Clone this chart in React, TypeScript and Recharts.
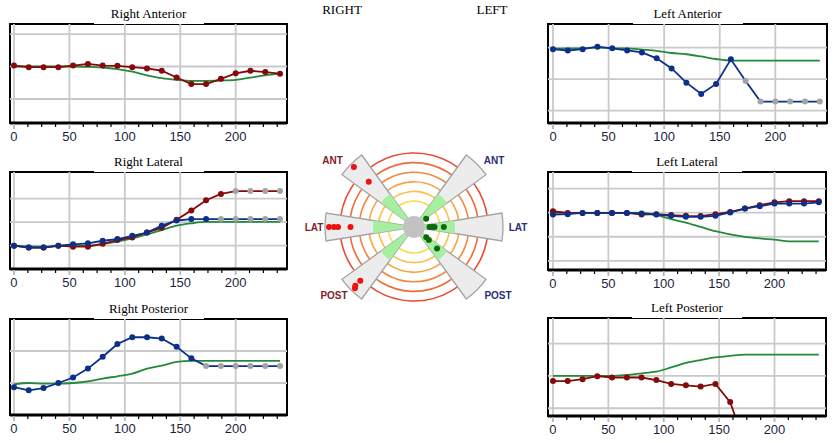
import React from "react";
import {
  LineChart,
  Line,
  XAxis,
  YAxis,
  ReferenceLine,
  ReferenceArea,
  PieChart,
  Pie,
  Cell,
  ScatterChart,
  Scatter,
} from "recharts";

// ---- sample times (x) and axis ticks ----
const TIMES = [0, 13.3, 26.7, 40, 53.3, 66.7, 80, 93.3, 106.7, 120, 133.3, 146.7, 160, 173.3, 186.7, 200, 213.3, 226.7, 240];
const X_TICKS = [0, 12.5, 25, 37.5, 50, 62.5, 75, 87.5, 100, 112.5, 125, 137.5, 150, 162.5, 175, 187.5, 200, 212.5, 225, 237.5];
const X_MAJOR = [0, 50, 100, 150, 200];

// ---- Right Anterior ----
const RA_RED = [2.03, 1.98, 1.98, 1.98, 2.03, 2.08, 2.03, 2.02, 1.98, 1.94, 1.87, 1.66, 1.46, 1.46, 1.62, 1.79, 1.87, 1.83, 1.78];
const RA_NORM = [2.0, 2.0, 2.0, 2.0, 2.0, 1.99, 1.97, 1.92, 1.84, 1.73, 1.64, 1.59, 1.56, 1.56, 1.57, 1.59, 1.66, 1.73, 1.78];

// ---- Right Lateral ----
const RL_RED = [0, -0.08, -0.08, 0, -0.04, -0.04, 0.08, 0.24, 0.35, 0.56, 0.76, 1.1, 1.5, 1.93, 2.2, 2.32, 2.32, 2.32, 2.32];
const RL_BLUE = [0, -0.08, -0.08, 0, 0.06, 0.1, 0.21, 0.28, 0.42, 0.56, 0.85, 1.07, 1.13, 1.13, 1.13, 1.13, 1.13, 1.13, 1.13];
const RL_NORM = [0, -0.03, -0.04, -0.02, 0, 0.01, 0.07, 0.17, 0.31, 0.48, 0.66, 0.85, 0.95, 1.01, 1.01, 1.01, 1.01, 1.01, 1.01];

// ---- Right Posterior ----
const RP_BLUE = [0.87, 0.77, 0.84, 1.0, 1.17, 1.45, 1.82, 2.22, 2.43, 2.43, 2.39, 2.13, 1.77, 1.53, 1.53, 1.53, 1.53, 1.53, 1.53];
const RP_NORM = [0.96, 1.0, 0.98, 0.98, 1.0, 1.05, 1.14, 1.21, 1.29, 1.45, 1.54, 1.66, 1.69, 1.69, 1.69, 1.69, 1.69, 1.69, 1.69];

// ---- Left Anterior ----
const LA_BLUE = [1.95, 1.91, 1.95, 2.03, 1.98, 1.91, 1.85, 1.66, 1.34, 0.89, 0.53, 0.85, 1.63, 0.94, 0.29, 0.29, 0.29, 0.29, 0.29];
const LA_NORM = [1.97, 1.98, 1.98, 2.0, 1.98, 1.98, 1.94, 1.9, 1.83, 1.79, 1.72, 1.64, 1.59, 1.59, 1.59, 1.59, 1.59, 1.59, 1.59];

// ---- Left Lateral ----
const LL_RED = [1.06, 0.99, 0.99, 0.99, 0.99, 0.99, 0.92, 0.94, 0.9, 0.87, 0.86, 0.94, 1.03, 1.17, 1.31, 1.43, 1.48, 1.48, 1.48];
const LL_BLUE = [0.92, 0.94, 0.99, 0.99, 0.99, 0.99, 0.97, 0.92, 0.87, 0.83, 0.83, 0.87, 1.01, 1.17, 1.27, 1.38, 1.38, 1.38, 1.43];
const LL_NORM = [0.99, 0.99, 0.99, 0.99, 0.99, 0.99, 0.99, 0.9, 0.73, 0.59, 0.41, 0.23, 0.1, 0, -0.07, -0.12, -0.19, -0.19, -0.19];

// ---- Left Posterior ----
const LP_RED = [0.84, 0.84, 0.9, 0.99, 0.95, 0.95, 0.95, 0.87, 0.75, 0.71, 0.67, 0.75, 0.19, -1.1, null, null, null, null, null];
const LP_NORM = [1.0, 1.0, 1.0, 1.0, 1.0, 1.03, 1.08, 1.13, 1.26, 1.4, 1.49, 1.57, 1.62, 1.66, 1.66, 1.66, 1.66, 1.66, 1.66];

// ---- centre polar figure ----
const DIRECTIONS = [
  { angle: 0, shown: true },
  { angle: 45, shown: true },
  { angle: 90, shown: false },
  { angle: 135, shown: true },
  { angle: 180, shown: true },
  { angle: 225, shown: true },
  { angle: 270, shown: false },
  { angle: 315, shown: true },
];
const RING_RADII = [26, 35.6, 45.2, 54.8, 64.4, 74];
const RING_COLORS = ["#fbd84a", "#fbbf45", "#f8a340", "#f4863d", "#f06a3a", "#ea4a35"];
const RIGHT_DOTS = [
  { angle: 135, r: 85 }, { angle: 135, r: 64 },
  { angle: 180, r: 85 }, { angle: 180, r: 80 }, { angle: 180, r: 76 }, { angle: 180, r: 63.5 },
  { angle: 225, r: 76 }, { angle: 225, r: 83 }, { angle: 226, r: 85 },
];
const LEFT_DOTS = [
  { angle: 34, r: 14.7 },
  { angle: 0, r: 15.5 }, { angle: 0, r: 18.2 }, { angle: 0, r: 20.5 }, { angle: 0, r: 29.8 },
  { angle: 320, r: 16 }, { angle: 319, r: 19.7 }, { angle: 317, r: 31.5 },
];

const RED = "#850a0a";
const BLUE = "#0c2f8a";
const GREEN = "#24893a";
const GRAY_DOT = "#a3a3a3";
const GRID = "#c9c9c9";
const TICK_COLOR = "#1c1f3c";
const SERIF = "'Liberation Serif', 'Times New Roman', serif";
const SANS = "'Liberation Sans', Arial, sans-serif";

type Series = { values: (number | null)[]; color: string; grayFrom?: number; smooth?: boolean };

const XTick = (p: any) => {
  const { x, y, payload } = p;
  const v = payload.value;
  const major = v % 50 === 0;
  return (
    <g>
      <line x1={x} x2={x} y1={y + 1} y2={y + (major ? 6 : 4)} stroke={major ? "#b5b5b5" : "#000"} strokeWidth={major ? 1.8 : 1.2} />
      {major && (
        <text x={x} y={y + 18} textAnchor="middle" fontSize={13} fill={TICK_COLOR} fontFamily={SANS}>
          {v}
        </text>
      )}
    </g>
  );
};

const makeDot = (color: string, grayFrom?: number) => (p: any) => {
  const { cx, cy, index, value } = p;
  if (cx == null || cy == null || value == null) return <g key={`n${index}`} />;
  const fill = grayFrom != null && index >= grayFrom ? GRAY_DOT : color;
  return <circle key={`d${index}`} cx={cx} cy={cy} r={3} fill={fill} />;
};

function Panel({
  title,
  left,
  top,
  width,
  height,
  xDomain,
  yDomain,
  yGrid,
  series,
}: {
  title: string;
  left: number;
  top: number;
  width: number;
  height: number;
  xDomain: [number, number];
  yDomain: [number, number];
  yGrid: number[];
  series: Series[];
}) {
  const rows = TIMES.map((t, i) => {
    const row: Record<string, number | null> = { t };
    series.forEach((s, k) => {
      row[`s${k}`] = s.values[i];
    });
    return row;
  });
  const cx = left + width / 2;
  return (
    <>
      <div style={{ position: "absolute", left: left - 10, top: top - 5 }}>
        <LineChart width={width + 20} height={height + 30} data={rows} margin={{ top: 5, right: 10, left: 10, bottom: 0 }}>
          <XAxis
            dataKey="t"
            type="number"
            domain={xDomain}
            ticks={X_TICKS}
            interval={0}
            tickSize={0}
            tickMargin={0}
            tickLine={false}
            tick={<XTick />}
            axisLine={{ stroke: "#000", strokeWidth: 3 }}
            height={25}
            allowDataOverflow
          />
          <YAxis hide type="number" domain={yDomain} allowDataOverflow />
          {X_MAJOR.map((v) => (
            <ReferenceLine key={`vx${v}`} x={v} stroke={GRID} strokeWidth={1.8} />
          ))}
          {yGrid.map((v) => (
            <ReferenceLine key={`hy${v}`} y={v} stroke={GRID} strokeWidth={1.8} />
          ))}
          <ReferenceArea
            x1={xDomain[0]}
            x2={xDomain[1]}
            y1={yDomain[0]}
            y2={yDomain[1]}
            fill="none"
            fillOpacity={0}
            stroke="#000"
            strokeWidth={2}
            ifOverflow="visible"
          />
          {series.map((s, k) => (
            <Line
              key={`s${k}`}
              dataKey={`s${k}`}
              type={s.smooth ? "monotone" : "linear"}
              stroke={s.color}
              strokeWidth={1.8}
              dot={s.smooth ? false : makeDot(s.color, s.grayFrom)}
              activeDot={false}
              isAnimationActive={false}
            />
          ))}
        </LineChart>
      </div>
      <div
        style={{
          position: "absolute",
          left: cx - 55,
          top: top - 20,
          width: 110,
          height: 19.5,
          lineHeight: "19px",
          background: "#fff",
          textAlign: "center",
          fontFamily: SERIF,
          fontSize: 13,
          color: "#000",
        }}
      >
        {title}
      </div>
    </>
  );
}

const ONE = [{ value: 1 }];
const WEDGE_SPAN = 18;
const WEDGE_DATA = DIRECTIONS.flatMap((d) => [
  { value: WEDGE_SPAN, shown: d.shown },
  { value: 45 - WEDGE_SPAN, shown: false },
]);

const toXY = (d: { angle: number; r: number }) => ({
  x: d.r * Math.cos((d.angle * Math.PI) / 180),
  y: d.r * Math.sin((d.angle * Math.PI) / 180),
});

function Polar() {
  const size = 200;
  const left = 313.5;
  const top = 127;
  const label = (text: string, x: number, y: number, color: string) => (
    <div
      key={`${text}${x}`}
      style={{
        position: "absolute",
        left: x,
        top: y,
        transform: "translate(-50%, -50%)",
        fontFamily: SANS,
        fontWeight: 700,
        fontSize: 10,
        color,
        whiteSpace: "nowrap",
      }}
    >
      {text}
    </div>
  );
  return (
    <>
      <div style={{ position: "absolute", left, top }}>
        <PieChart width={size} height={size} margin={{ top: 0, right: 0, bottom: 0, left: 0 }}>
          {RING_RADII.map((r, i) => (
            <Pie
              key={`ring${i}`}
              data={ONE}
              dataKey="value"
              cx="50%"
              cy="50%"
              innerRadius={r}
              outerRadius={r}
              fill="none"
              stroke={RING_COLORS[i]}
              strokeWidth={1.6}
              isAnimationActive={false}
            />
          ))}
          <Pie
            data={WEDGE_DATA}
            dataKey="value"
            cx="50%"
            cy="50%"
            innerRadius={0}
            outerRadius={89}
            startAngle={-WEDGE_SPAN / 2}
            endAngle={360 - WEDGE_SPAN / 2}
            isAnimationActive={false}
          >
            {WEDGE_DATA.map((d, i) => (
              <Cell key={`w${i}`} fill={d.shown ? "#ececec" : "transparent"} stroke={d.shown ? "#a3a3a3" : "none"} strokeWidth={1.3} />
            ))}
          </Pie>
          <Pie
            data={WEDGE_DATA}
            dataKey="value"
            cx="50%"
            cy="50%"
            innerRadius={0}
            outerRadius={41}
            startAngle={-WEDGE_SPAN / 2}
            endAngle={360 - WEDGE_SPAN / 2}
            isAnimationActive={false}
          >
            {WEDGE_DATA.map((d, i) => (
              <Cell key={`g${i}`} fill={d.shown ? "#a6eea0" : "transparent"} stroke="none" />
            ))}
          </Pie>
          <Pie data={ONE} dataKey="value" cx="50%" cy="50%" innerRadius={0} outerRadius={11} fill="#c2c2c2" stroke="none" isAnimationActive={false} />
        </PieChart>
      </div>
      <div style={{ position: "absolute", left, top }}>
        <ScatterChart width={size} height={size} margin={{ top: 0, right: 0, bottom: 0, left: 0 }}>
          <XAxis type="number" dataKey="x" domain={[-100, 100]} hide allowDataOverflow />
          <YAxis type="number" dataKey="y" domain={[-100, 100]} hide allowDataOverflow />
          <Scatter data={RIGHT_DOTS.map(toXY)} fill="#ee1111" shape={(p: any) => <circle cx={p.cx} cy={p.cy} r={3} fill="#ee1111" />} isAnimationActive={false} />
          <Scatter data={LEFT_DOTS.map(toXY)} fill="#0b6a0b" shape={(p: any) => <circle cx={p.cx} cy={p.cy} r={3} fill="#0b6a0b" />} isAnimationActive={false} />
        </ScatterChart>
      </div>
      {label("ANT", 332.5, 160, "#7e1f2a")}
      {label("LAT", 314, 227, "#7e1f2a")}
      {label("POST", 334, 295, "#7e1f2a")}
      {label("ANT", 494, 160, "#2a2f78")}
      {label("LAT", 518, 227, "#2a2f78")}
      {label("POST", 498, 295, "#2a2f78")}
    </>
  );
}

export default function App() {
  const XR: [number, number] = [-3.6, 246.3];
  const XL: [number, number] = [-4.5, 246.5];
  return (
    <div style={{ position: "absolute", left: 0, top: 0, width: 835, height: 443, background: "#fff", overflow: "hidden" }}>
      <Panel title="Right Anterior" left={10} top={24} width={277} height={99} xDomain={XR} yDomain={[0.26, 3.31]} yGrid={[1, 2, 3]}
        series={[{ values: RA_NORM, color: GREEN, smooth: true }, { values: RA_RED, color: RED }]} />
      <Panel title="Right Lateral" left={10} top={172} width={277} height={97} xDomain={XR} yDomain={[-0.99, 3.13]} yGrid={[0, 1, 2]}
        series={[{ values: RL_NORM, color: GREEN, smooth: true }, { values: RL_RED, color: RED, grayFrom: 15 }, { values: RL_BLUE, color: BLUE, grayFrom: 14 }]} />
      <Panel title="Right Posterior" left={10} top={319} width={277} height={96} xDomain={XR} yDomain={[0, 3]} yGrid={[1, 2]}
        series={[{ values: RP_NORM, color: GREEN, smooth: true }, { values: RP_BLUE, color: BLUE, grayFrom: 13 }]} />
      <Panel title="Left Anterior" left={548} top={24} width={279} height={99} xDomain={XL} yDomain={[-0.39, 2.75]} yGrid={[0, 1, 2]}
        series={[{ values: LA_NORM, color: GREEN, smooth: true }, { values: LA_BLUE, color: BLUE, grayFrom: 13 }]} />
      <Panel title="Left Lateral" left={548} top={172} width={278} height={98} xDomain={XL} yDomain={[-1.38, 2.69]} yGrid={[-1, 0, 1, 2]}
        series={[{ values: LL_NORM, color: GREEN, smooth: true }, { values: LL_RED, color: RED }, { values: LL_BLUE, color: BLUE }]} />
      <Panel title="Left Posterior" left={548} top={318} width={278} height={98} xDomain={XL} yDomain={[-0.24, 2.79]} yGrid={[0, 1, 2]}
        series={[{ values: LP_NORM, color: GREEN, smooth: true }, { values: LP_RED, color: RED }]} />
      <Polar />
      <div style={{ position: "absolute", left: 342, top: 10, transform: "translate(-50%, -50%)", fontFamily: SERIF, fontSize: 13 }}>RIGHT</div>
      <div style={{ position: "absolute", left: 492, top: 10, transform: "translate(-50%, -50%)", fontFamily: SERIF, fontSize: 13 }}>LEFT</div>
    </div>
  );
}
